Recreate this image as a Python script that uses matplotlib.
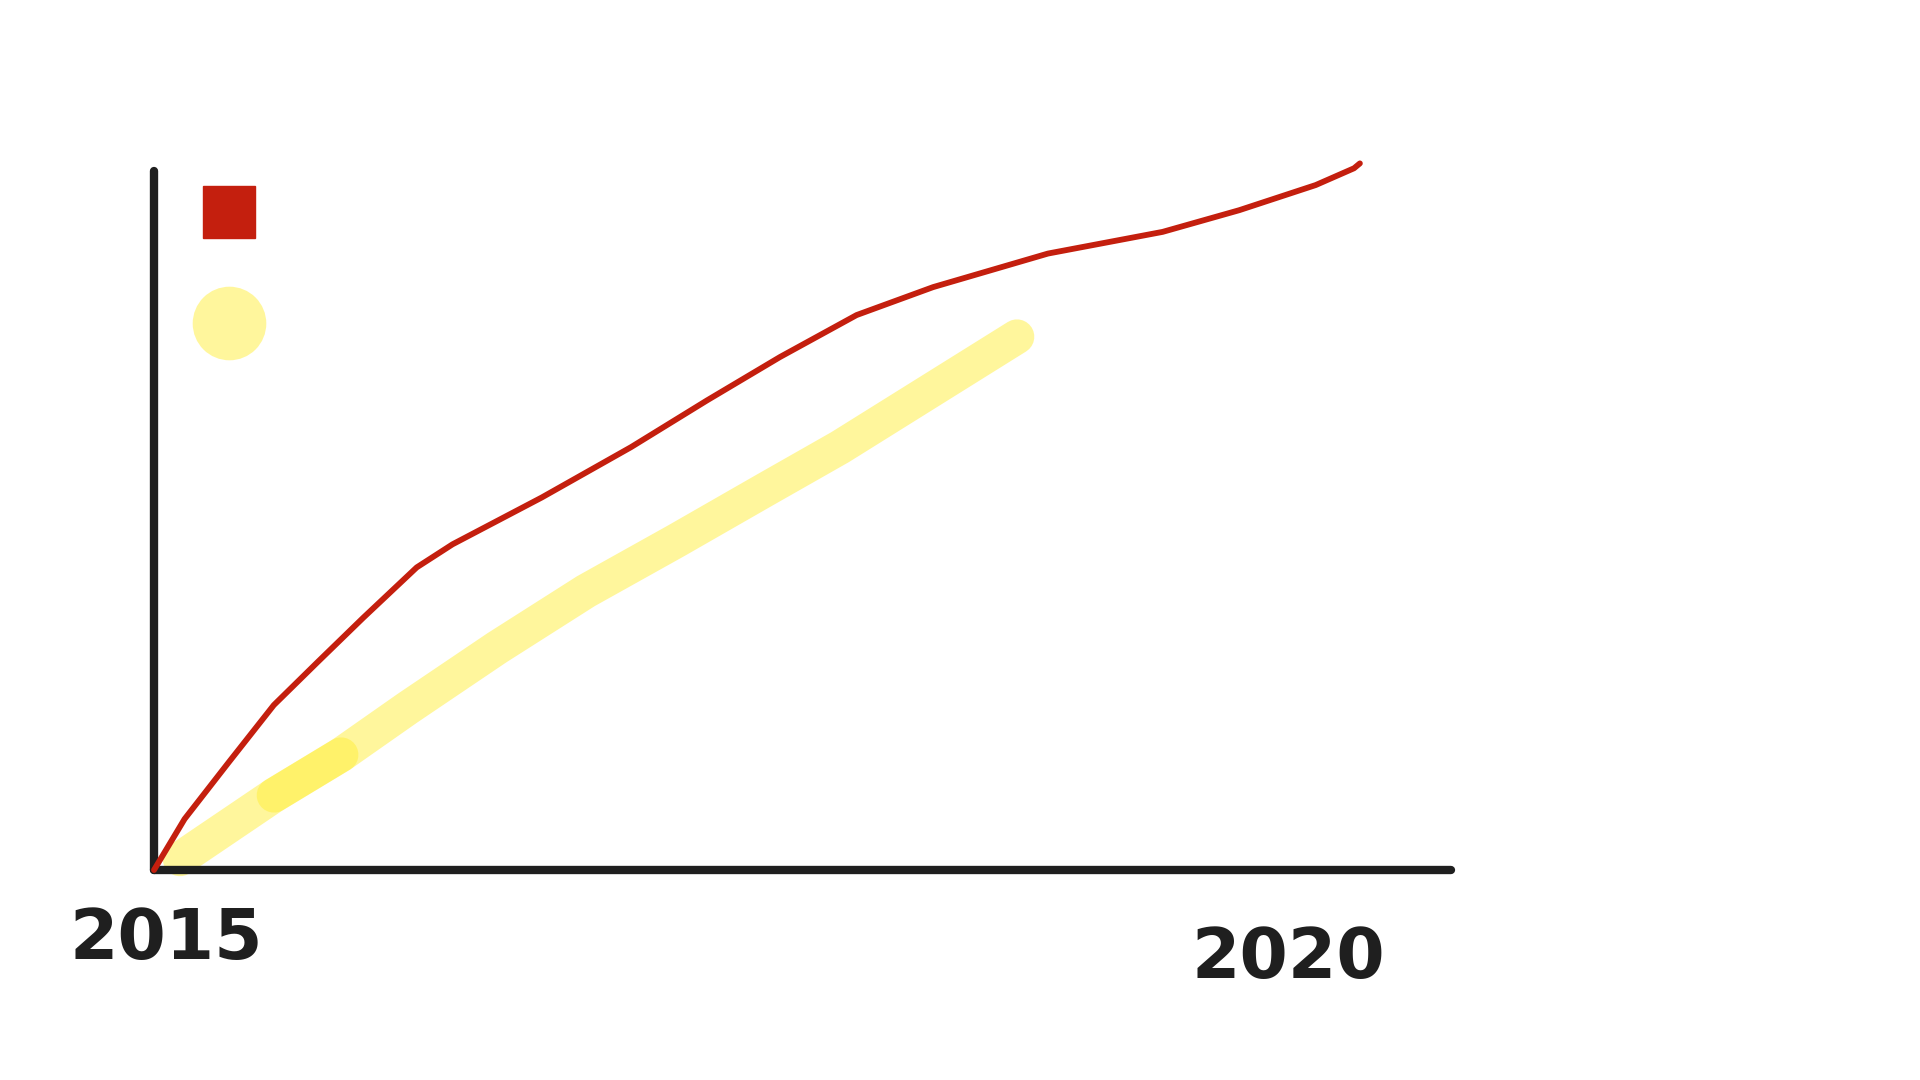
import matplotlib
matplotlib.use("Agg")
import matplotlib.pyplot as plt
import matplotlib.transforms as mtransforms
from matplotlib.lines import Line2D

# hand-drawn sketch: two series growing from 2015 towards 2020
RED_YEARS = [2015.0, 2015.135, 2015.332, 2015.529, 2015.727, 2015.924, 2016.16,
             2016.318, 2016.712, 2017.106, 2017.442, 2017.764, 2018.102, 2018.44,
             2018.947, 2019.453, 2019.791, 2020.129, 2020.298, 2020.324]
RED_VALUES = [0, 7.3, 15.5, 23.6, 29.9, 36.1, 43.3,
              46.6, 53.3, 60.5, 67.2, 73.4, 79.4, 83.4,
              88.2, 91.3, 94.4, 98.0, 100.4, 101.1]

YELLOW_YEARS = [2015.115, 2015.53, 2015.826, 2016.121, 2016.514, 2016.907,
                2017.305, 2017.698, 2018.029, 2018.81]
YELLOW_VALUES = [1.6, 10.7, 16.5, 23.2, 31.8, 39.9, 47.1, 54.4, 60.5, 76.3]

TICK_YEARS = [2015, 2020]
TICK_LABELS = ["2015", "2020"]

RED = "#c41f0e"
YELLOW = "#ffef3a"
INK = "#1f1f1f"


def main():
    fig = plt.figure(figsize=(19.2, 10.8), dpi=100)
    ax = fig.add_axes([0.0802, 0.1944, 0.6755, 0.6472])

    # the highlighter was drawn in two overlapping strokes
    stroke_style = dict(color=YELLOW, alpha=0.5, linewidth=25, solid_capstyle="round",
                        solid_joinstyle="round", clip_on=False, zorder=2)
    ax.plot(YELLOW_YEARS[:3], YELLOW_VALUES[:3], **stroke_style)
    ax.plot(YELLOW_YEARS[1:], YELLOW_VALUES[1:], **stroke_style)

    ax.plot(RED_YEARS, RED_VALUES, color=RED, linewidth=4.2,
            solid_capstyle="round", solid_joinstyle="round", clip_on=False, zorder=3)

    ax.set_xlim(2015, 2020.726)
    ax.set_ylim(0, 100)

    for side in ["top", "right"]:
        ax.spines[side].set_visible(False)
    for side in ["left", "bottom"]:
        ax.spines[side].set_color(INK)
        ax.spines[side].set_linewidth(6)
        ax.spines[side].set_capstyle("round")

    ax.set_yticks([])
    ax.set_xticks(TICK_YEARS)
    ax.set_xticklabels(TICK_LABELS, fontsize=50, fontweight="bold", color=INK)
    ax.tick_params(axis="x", length=0, pad=26)
    labels = ax.get_xticklabels()
    labels[0].set_transform(labels[0].get_transform()
                            + mtransforms.ScaledTranslation(0.12, 0, fig.dpi_scale_trans))
    labels[1].set_transform(labels[1].get_transform()
                            + mtransforms.ScaledTranslation(0.02, -0.19, fig.dpi_scale_trans))

    handles = [
        Line2D([], [], linestyle="none", marker="s", markersize=38,
               markerfacecolor=RED, markeredgecolor=RED),
        Line2D([], [], linestyle="none", marker="o", markersize=53,
               markerfacecolor=YELLOW, markeredgecolor="none", alpha=0.5),
    ]
    ax.legend(handles, ["", ""], loc="upper left", frameon=False, fontsize=20,
              bbox_to_anchor=(0.0216, 0.977), handlelength=3, handleheight=3,
              labelspacing=1.8, handletextpad=0, borderpad=0.2, borderaxespad=0)

    fig.savefig("out.png", dpi=100)


if __name__ == "__main__":
    main()
